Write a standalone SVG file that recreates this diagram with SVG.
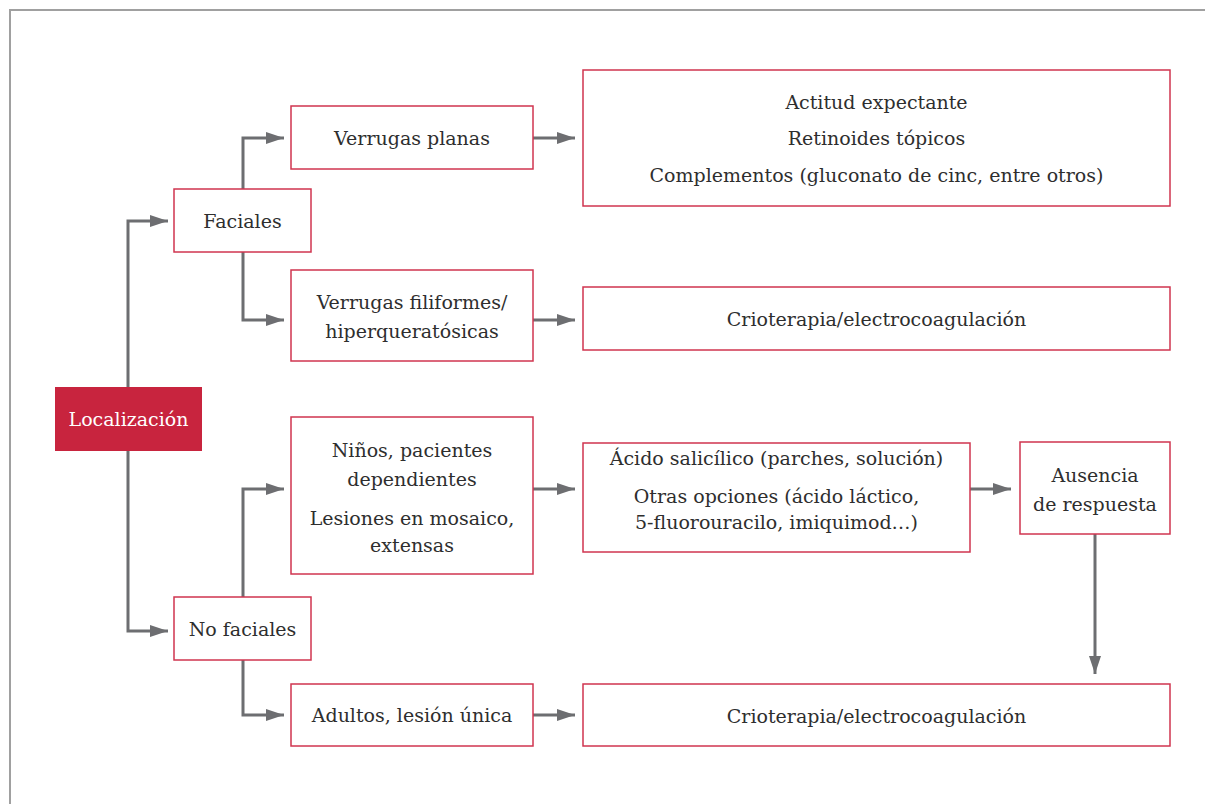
<svg xmlns="http://www.w3.org/2000/svg" width="1205" height="804" viewBox="0 0 1205 804">
<style>
.box{fill:#fff;stroke:#D0354F;stroke-width:1.5}
.t{font-family:"DejaVu Serif","Liberation Serif",serif;font-size:19px;fill:#2e2e2e;text-anchor:middle}
.c{fill:none;stroke:#6D6E71;stroke-width:3}
</style>
<defs>
<marker id="ah" markerWidth="6" markerHeight="4" refX="6" refY="2" orient="auto" markerUnits="strokeWidth">
<path d="M0,0 L6,2 L0,4 Z" fill="#6D6E71"/>
</marker>
</defs>
<rect width="1205" height="804" fill="#fff"/>
<path d="M10,804 V10 H1205" fill="none" stroke="#A0A0A0" stroke-width="2"/>
<g id="connectors">
<path class="c" d="M128,387 V221 H168" marker-end="url(#ah)"/>
<path class="c" d="M128,451 V631 H168" marker-end="url(#ah)"/>
<path class="c" d="M243,189 V138 H284" marker-end="url(#ah)"/>
<path class="c" d="M243,252 V320 H284" marker-end="url(#ah)"/>
<path class="c" d="M243,597 V489 H284" marker-end="url(#ah)"/>
<path class="c" d="M243,660 V715 H284" marker-end="url(#ah)"/>
<path class="c" d="M533,138 H575" marker-end="url(#ah)"/>
<path class="c" d="M533,320 H575" marker-end="url(#ah)"/>
<path class="c" d="M533,489 H575" marker-end="url(#ah)"/>
<path class="c" d="M533,715 H575" marker-end="url(#ah)"/>
<path class="c" d="M970,489 H1011" marker-end="url(#ah)"/>
<path class="c" d="M1095,534 V674" marker-end="url(#ah)"/>
</g>
<g id="localizacion">
<rect x="55" y="387" width="147" height="64" fill="#C8243E"/>
<text class="t" x="128.5" y="426" style="fill:#fff">Localización</text>
</g>
<g id="faciales">
<rect class="box" x="174" y="189" width="137" height="63"/>
<text class="t" x="242.5" y="228">Faciales</text>
</g>
<g id="nofaciales">
<rect class="box" x="174" y="597" width="137" height="63"/>
<text class="t" x="242.5" y="636">No faciales</text>
</g>
<g id="planas">
<rect class="box" x="291" y="106" width="242" height="63"/>
<text class="t" x="412" y="145">Verrugas planas</text>
</g>
<g id="filiformes">
<rect class="box" x="291" y="270" width="242" height="91"/>
<text class="t" x="412" y="309">Verrugas filiformes/</text>
<text class="t" x="412" y="338">hiperqueratósicas</text>
</g>
<g id="ninos">
<rect class="box" x="291" y="417" width="242" height="157"/>
<text class="t" x="412" y="457">Niños, pacientes</text>
<text class="t" x="412" y="486">dependientes</text>
<text class="t" x="412" y="525">Lesiones en mosaico,</text>
<text class="t" x="412" y="552">extensas</text>
</g>
<g id="adultos">
<rect class="box" x="291" y="684" width="242" height="62"/>
<text class="t" x="412" y="722">Adultos, lesión única</text>
</g>
<g id="actitud">
<rect class="box" x="583" y="70" width="587" height="136"/>
<text class="t" x="876.5" y="109">Actitud expectante</text>
<text class="t" x="876.5" y="145">Retinoides tópicos</text>
<text class="t" x="876.5" y="182">Complementos (gluconato de cinc, entre otros)</text>
</g>
<g id="crio1">
<rect class="box" x="583" y="287" width="587" height="63"/>
<text class="t" x="876.5" y="326">Crioterapia/electrocoagulación</text>
</g>
<g id="acido">
<rect class="box" x="583" y="443" width="387" height="109"/>
<text class="t" x="776.5" y="465">Ácido salicílico (parches, solución)</text>
<text class="t" x="776.5" y="503">Otras opciones (ácido láctico,</text>
<text class="t" x="776.5" y="529">5-fluorouracilo, imiquimod…)</text>
</g>
<g id="ausencia">
<rect class="box" x="1020" y="442" width="150" height="92"/>
<text class="t" x="1095" y="482">Ausencia</text>
<text class="t" x="1095" y="511">de respuesta</text>
</g>
<g id="crio2">
<rect class="box" x="583" y="684" width="587" height="62"/>
<text class="t" x="876.5" y="723">Crioterapia/electrocoagulación</text>
</g>
</svg>
